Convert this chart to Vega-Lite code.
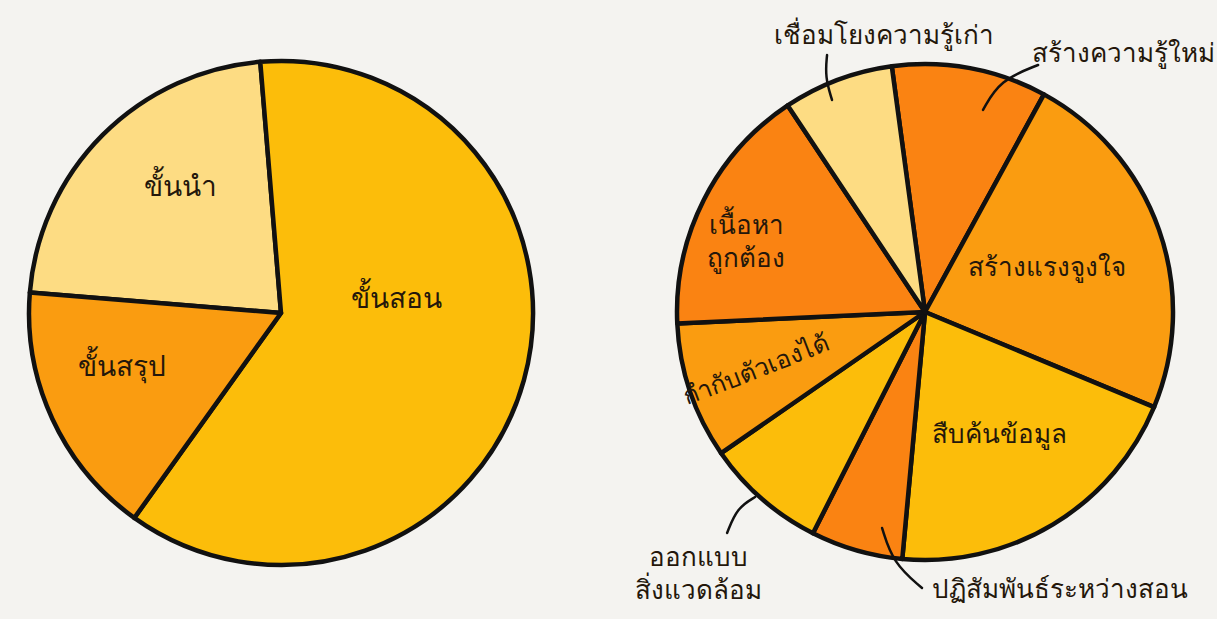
{
  "$schema": "https://vega.github.io/schema/vega-lite/v6.json",
  "background": "#F4F3F0",
  "padding": 0,
  "spacing": 0,
  "config": {"view": {"stroke": null}, "text": {"font": "Noto Sans", "fontSize": 26, "color": "#24170b", "lineBreak": "\n", "lineHeight": 33}},
  "resolve": {"scale": {"x": "independent", "y": "independent", "theta": "independent", "color": "independent"}},
  "hconcat": [
    {
      "width": 560,
      "height": 619,
      "layer": [
        {
          "data": {"values": [
            {"i": 1, "name": "ขั้นนำ", "v": 22.4},
            {"i": 2, "name": "ขั้นสอน", "v": 61.2},
            {"i": 3, "name": "ขั้นสรุป", "v": 16.4}
          ]},
          "mark": {"type": "arc", "outerRadius": 252, "stroke": "#111111", "strokeWidth": 4.5, "strokeJoin": "round"},
          "encoding": {
            "theta": {"field": "v", "type": "quantitative", "stack": true, "scale": {"range": [-1.4898, 4.7934]}},
            "order": {"field": "i"},
            "color": {"field": "name", "type": "nominal", "legend": null, "scale": {"domain": ["ขั้นนำ", "ขั้นสอน", "ขั้นสรุป"], "range": ["#FDDC83", "#FCBD0A", "#FA9C10"]}},
            "x": {"datum": 0, "type": "quantitative", "scale": {"domain": [-1.1151, 1.1071], "nice": false, "zero": false}, "axis": null},
            "y": {"datum": 0, "type": "quantitative", "scale": {"domain": [-1.2143, 1.2421], "nice": false, "zero": false}, "axis": null}
          }
        },
        {
          "data": {"values": [
            {"label": "ขั้นนำ", "x": -0.397, "y": 0.496},
            {"label": "ขั้นสอน", "x": 0.46, "y": 0.052},
            {"label": "ขั้นสรุป", "x": -0.631, "y": -0.218}
          ]},
          "mark": {"type": "text", "fontSize": 28},
          "encoding": {
            "text": {"field": "label"},
            "x": {"field": "x", "type": "quantitative"},
            "y": {"field": "y", "type": "quantitative"}
          }
        }
      ]
    },
    {
      "width": 657,
      "height": 619,
      "layer": [
        {
          "data": {"values": [
            {"i": 1, "name": "สร้างความรู้ใหม่", "v": 10.1},
            {"i": 2, "name": "สร้างแรงจูงใจ", "v": 23.3},
            {"i": 3, "name": "สืบค้นข้อมูล", "v": 20.2},
            {"i": 4, "name": "ปฏิสัมพันธ์ระหว่างสอน", "v": 6.0},
            {"i": 5, "name": "ออกแบบสิ่งแวดล้อม", "v": 7.9},
            {"i": 6, "name": "กำกับตัวเองได้", "v": 8.9},
            {"i": 7, "name": "เนื้อหาถูกต้อง", "v": 16.4},
            {"i": 8, "name": "เชื่อมโยงความรู้เก่า", "v": 7.2}
          ]},
          "mark": {"type": "arc", "outerRadius": 248, "stroke": "#111111", "strokeWidth": 4.5, "strokeJoin": "round"},
          "encoding": {
            "theta": {"field": "v", "type": "quantitative", "stack": true, "scale": {"range": [-0.1344, 6.1488]}},
            "order": {"field": "i"},
            "color": {"field": "name", "type": "nominal", "legend": null, "scale": {
              "domain": ["สร้างความรู้ใหม่", "สร้างแรงจูงใจ", "สืบค้นข้อมูล", "ปฏิสัมพันธ์ระหว่างสอน", "ออกแบบสิ่งแวดล้อม", "กำกับตัวเองได้", "เนื้อหาถูกต้อง", "เชื่อมโยงความรู้เก่า"],
              "range": ["#FA8312", "#FA9C10", "#FCBD0A", "#FA8312", "#FCBD0A", "#FA9C10", "#FA8312", "#FDDC83"]}},
            "x": {"datum": 0, "type": "quantitative", "scale": {"domain": [-1.4718, 1.1774], "nice": false, "zero": false}, "axis": null},
            "y": {"datum": 0, "type": "quantitative", "scale": {"domain": [-1.2379, 1.2581], "nice": false, "zero": false}, "axis": null}
          }
        },
        {
          "data": {"values": [
            {"id": 1, "k": 1, "x": -0.395, "y": 1.036},
            {"id": 1, "k": 2, "x": -0.403, "y": 0.948},
            {"id": 1, "k": 3, "x": -0.375, "y": 0.855},
            {"id": 2, "k": 1, "x": 0.456, "y": 0.996},
            {"id": 2, "k": 2, "x": 0.302, "y": 0.935},
            {"id": 2, "k": 3, "x": 0.234, "y": 0.815},
            {"id": 3, "k": 1, "x": -0.685, "y": -0.746},
            {"id": 3, "k": 2, "x": -0.758, "y": -0.79},
            {"id": 3, "k": 3, "x": -0.798, "y": -0.891},
            {"id": 4, "k": 1, "x": -0.173, "y": -0.871},
            {"id": 4, "k": 2, "x": -0.129, "y": -1.012},
            {"id": 4, "k": 3, "x": -0.012, "y": -1.113}
          ]},
          "mark": {"type": "line", "color": "#111111", "strokeWidth": 2.5, "interpolate": "basis", "strokeCap": "round"},
          "encoding": {
            "x": {"field": "x", "type": "quantitative"},
            "y": {"field": "y", "type": "quantitative"},
            "detail": {"field": "id"},
            "order": {"field": "k"}
          }
        },
        {
          "data": {"values": [
            {"label": "เชื่อมโยงความรู้เก่า", "x": -0.165, "y": 1.113},
            {"label": "สร้างความรู้ใหม่", "x": 0.802, "y": 1.04},
            {"label": "สร้างแรงจูงใจ", "x": 0.492, "y": 0.177},
            {"label": "เนื้อหา\nถูกต้อง", "x": -0.72, "y": 0.347},
            {"label": "สืบค้นข้อมูล", "x": 0.302, "y": -0.496},
            {"label": "ออกแบบ\nสิ่งแวดล้อม", "x": -0.915, "y": -0.992},
            {"label": "ปฏิสัมพันธ์ระหว่างสอน", "x": 0.544, "y": -1.121}
          ]},
          "mark": {"type": "text"},
          "encoding": {
            "text": {"field": "label"},
            "x": {"field": "x", "type": "quantitative"},
            "y": {"field": "y", "type": "quantitative"}
          }
        },
        {
          "data": {"values": [
            {"label": "กำกับตัวเองได้", "x": -0.681, "y": -0.234}
          ]},
          "mark": {"type": "text", "angle": -21, "fontSize": 25},
          "encoding": {
            "text": {"field": "label"},
            "x": {"field": "x", "type": "quantitative"},
            "y": {"field": "y", "type": "quantitative"}
          }
        }
      ]
    }
  ]
}
